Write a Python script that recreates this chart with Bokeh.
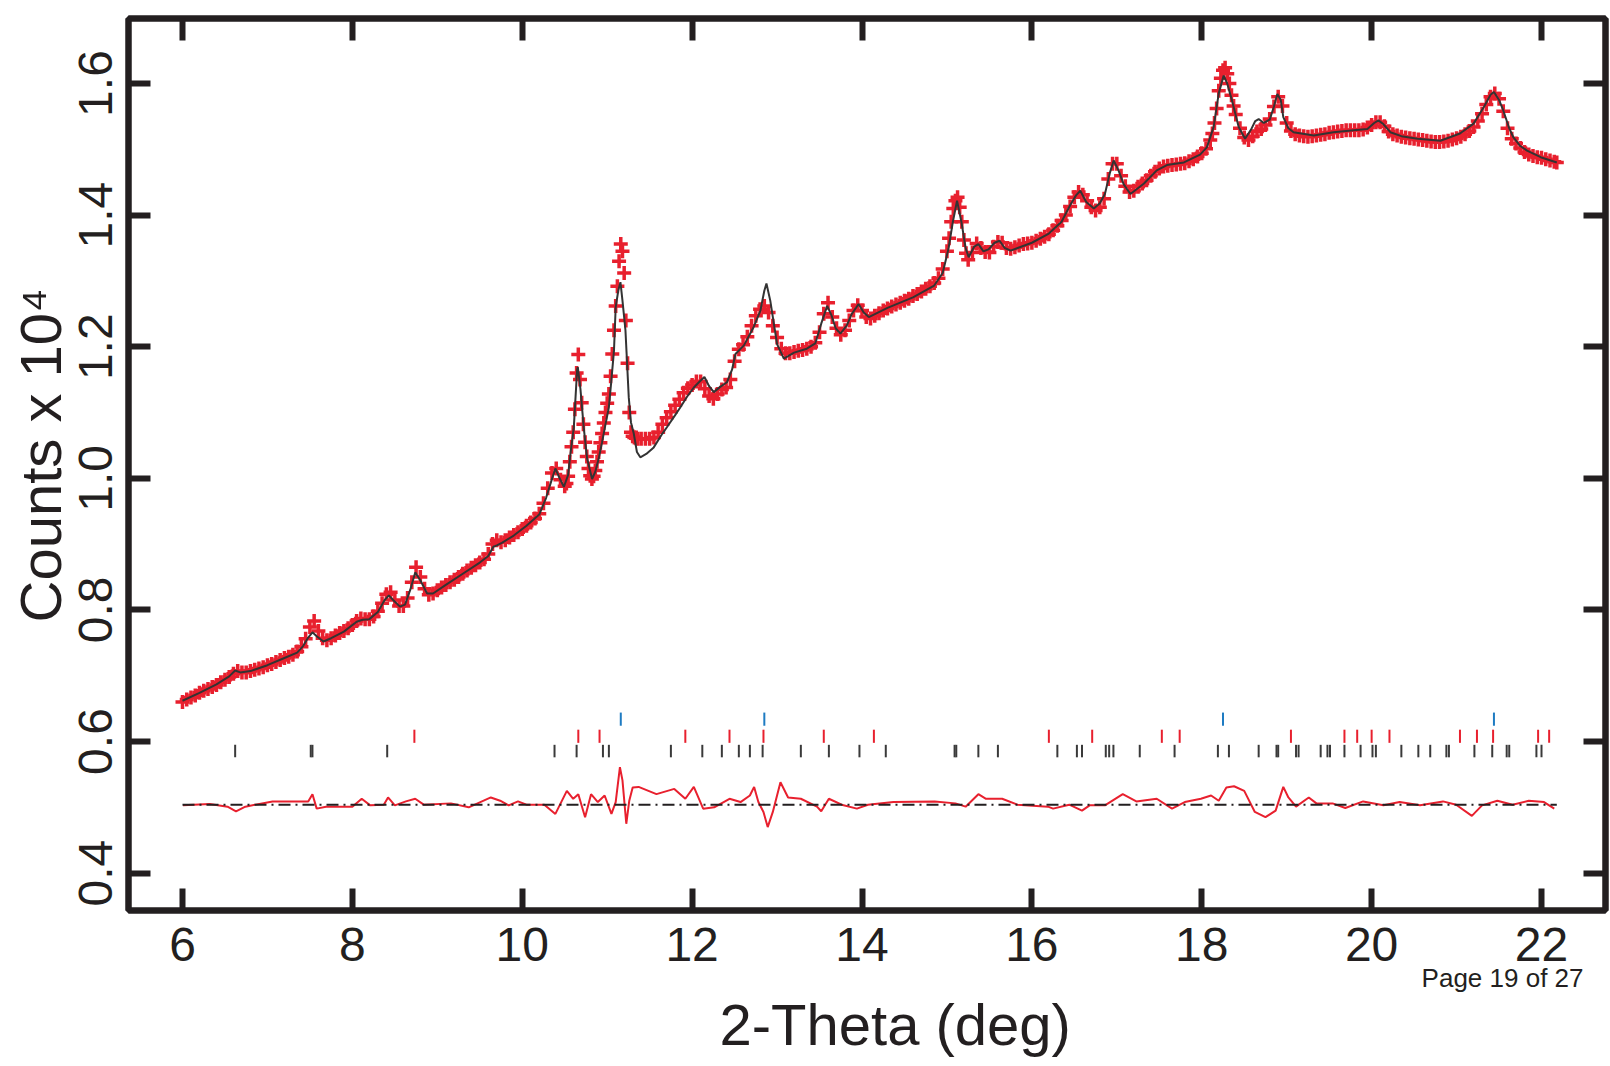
from bokeh.plotting import figure
from bokeh.models import (Range1d, LinearAxis, FixedTicker, PrintfTickFormatter,
                          CustomJSTickFormatter, Title)
from bokeh.embed import file_html
from bokeh.resources import INLINE

# ---------------- data ----------------
obs_2theta = [
    6.00, 6.05, 6.10, 6.15, 6.20, 6.25, 6.30, 6.35, 6.40, 6.45, 6.50, 6.55, 6.60, 6.65, 6.70, 6.75,
    6.80, 6.85, 6.90, 6.95, 7.00, 7.05, 7.10, 7.15, 7.20, 7.25, 7.30, 7.35, 7.40, 7.45, 7.50, 7.55,
    7.60, 7.65, 7.70, 7.75, 7.80, 7.85, 7.90, 7.95, 8.00, 8.05, 8.10, 8.15, 8.20, 8.25, 8.30, 8.35,
    8.40, 8.45, 8.50, 8.55, 8.60, 8.65, 8.70, 8.75, 8.80, 8.85, 8.90, 8.95, 9.00, 9.05, 9.10, 9.15,
    9.20, 9.25, 9.30, 9.35, 9.40, 9.45, 9.50, 9.55, 9.60, 9.65, 9.70, 9.75, 9.80, 9.85, 9.90, 9.95,
    10.00, 10.05, 10.10, 10.15, 10.20, 10.25, 10.30, 10.35, 10.40, 10.45, 10.50,
    10.52, 10.54, 10.56, 10.58, 10.60, 10.62, 10.64, 10.66, 10.68, 10.70, 10.72, 10.74, 10.76, 10.78,
    10.80, 10.82, 10.84, 10.86, 10.88, 10.90, 10.92, 10.94, 10.96, 10.98, 11.00, 11.02, 11.04, 11.06,
    11.08, 11.10, 11.12, 11.14, 11.16, 11.18, 11.20, 11.22, 11.24, 11.26, 11.28, 11.30, 11.32, 11.34, 11.36,
    11.40, 11.45, 11.50, 11.55, 11.60, 11.65, 11.70, 11.75, 11.80, 11.85, 11.90, 11.95, 12.00, 12.05,
    12.10, 12.15, 12.20, 12.25, 12.30, 12.35, 12.40, 12.45, 12.50, 12.55, 12.60, 12.65, 12.70, 12.75,
    12.80, 12.85, 12.90, 12.95, 13.00, 13.05, 13.10, 13.15, 13.20, 13.25, 13.30, 13.35, 13.40, 13.45,
    13.50, 13.55, 13.60, 13.65, 13.70, 13.75, 13.80, 13.85, 13.90, 13.95, 14.00, 14.05, 14.10, 14.15,
    14.20, 14.25, 14.30, 14.35, 14.40, 14.45, 14.50, 14.55, 14.60, 14.65, 14.70, 14.75, 14.80, 14.85,
    14.90, 14.95,
    15.000, 15.025, 15.050, 15.075, 15.100, 15.125, 15.150, 15.175, 15.200, 15.225, 15.250,
    15.30, 15.35, 15.40, 15.45, 15.50, 15.55, 15.60, 15.65, 15.70, 15.75, 15.80, 15.85, 15.90, 15.95,
    16.00, 16.05, 16.10, 16.15, 16.20, 16.25, 16.30, 16.35, 16.40, 16.45, 16.50, 16.55, 16.60, 16.65,
    16.70, 16.75, 16.80, 16.85, 16.90, 16.95, 17.00, 17.05, 17.10, 17.15, 17.20, 17.25, 17.30, 17.35,
    17.40, 17.45, 17.50, 17.55, 17.60, 17.65, 17.70, 17.75, 17.80, 17.85, 17.90, 17.95, 18.00, 18.05,
    18.100, 18.125, 18.150, 18.175, 18.200, 18.225, 18.250, 18.275, 18.300, 18.325, 18.350, 18.375, 18.400,
    18.45, 18.50, 18.55, 18.60, 18.65, 18.70, 18.75, 18.80, 18.85, 18.90, 18.95, 19.00, 19.05, 19.10,
    19.15, 19.20, 19.25, 19.30, 19.35, 19.40, 19.45, 19.50, 19.55, 19.60, 19.65, 19.70, 19.75, 19.80,
    19.85, 19.90, 19.95, 20.00, 20.05, 20.10, 20.15, 20.20, 20.25, 20.30, 20.35, 20.40, 20.45, 20.50,
    20.55, 20.60, 20.65, 20.70, 20.75, 20.80, 20.85, 20.90, 20.95, 21.00, 21.05, 21.10, 21.15, 21.20,
    21.25, 21.30, 21.35, 21.40, 21.45, 21.50, 21.55, 21.60, 21.65, 21.70, 21.75, 21.80, 21.85, 21.90,
    21.95, 22.00, 22.05, 22.10, 22.15, 22.18,
]
obs_counts = [
    0.660, 0.664, 0.667, 0.670, 0.674, 0.677, 0.680, 0.683, 0.686, 0.690, 0.694, 0.698, 0.703, 0.707, 0.705, 0.705,
    0.707, 0.709, 0.711, 0.713, 0.716, 0.718, 0.721, 0.724, 0.727, 0.729, 0.732, 0.737, 0.744, 0.756, 0.774, 0.783,
    0.768, 0.757, 0.754, 0.757, 0.761, 0.765, 0.768, 0.772, 0.777, 0.783, 0.787, 0.786, 0.786, 0.790, 0.798, 0.810,
    0.824, 0.827, 0.815, 0.806, 0.806, 0.818, 0.842, 0.865, 0.850, 0.832, 0.823, 0.825, 0.830, 0.834, 0.838, 0.842,
    0.846, 0.850, 0.855, 0.860, 0.864, 0.868, 0.872, 0.877, 0.885, 0.900, 0.906, 0.903, 0.906, 0.910, 0.914, 0.918,
    0.923, 0.928, 0.933, 0.939, 0.946, 0.962, 0.985, 1.008, 1.015, 0.998, 0.988,
    0.992, 1.003, 1.025, 1.048, 1.070, 1.105, 1.160, 1.188, 1.150, 1.115, 1.082, 1.055, 1.033, 1.015,
    1.004, 0.999, 1.003, 1.012, 1.025, 1.040, 1.054, 1.068, 1.084, 1.100, 1.114, 1.128, 1.155, 1.189,
    1.225, 1.262, 1.292, 1.330, 1.356, 1.345, 1.312, 1.240, 1.175, 1.100, 1.070, 1.064, 1.062, 1.061, 1.060,
    1.060, 1.060, 1.060, 1.062, 1.070, 1.082, 1.092, 1.101, 1.111, 1.120, 1.130, 1.137, 1.142, 1.147,
    1.147, 1.136, 1.125, 1.121, 1.128, 1.135, 1.138, 1.150, 1.178, 1.196, 1.203, 1.215, 1.232, 1.247,
    1.257, 1.262, 1.252, 1.232, 1.214, 1.197, 1.190, 1.190, 1.192, 1.194, 1.195, 1.197, 1.200, 1.206,
    1.222, 1.250, 1.267, 1.245, 1.228, 1.218, 1.225, 1.240, 1.255, 1.263, 1.255, 1.245, 1.243, 1.247,
    1.251, 1.255, 1.258, 1.261, 1.264, 1.267, 1.270, 1.273, 1.277, 1.280, 1.284, 1.288, 1.292, 1.297,
    1.304, 1.318,
    1.345, 1.365, 1.390, 1.410, 1.422, 1.427, 1.412, 1.390, 1.362, 1.342, 1.332,
    1.343, 1.357, 1.350, 1.344, 1.343, 1.352, 1.359, 1.358, 1.350, 1.349, 1.351, 1.354, 1.356, 1.357,
    1.358, 1.361, 1.364, 1.367, 1.371, 1.377, 1.384, 1.392, 1.400, 1.413, 1.427, 1.435, 1.431, 1.422,
    1.412, 1.407, 1.412, 1.425, 1.455, 1.478, 1.478, 1.460, 1.444, 1.435, 1.437, 1.443, 1.448, 1.453,
    1.460, 1.466, 1.471, 1.474, 1.475, 1.476, 1.477, 1.478, 1.479, 1.482, 1.485, 1.489, 1.494, 1.501,
    1.514, 1.524, 1.540, 1.562, 1.589, 1.608, 1.620, 1.624, 1.615, 1.600, 1.582, 1.566, 1.553,
    1.532, 1.518, 1.514, 1.520, 1.527, 1.531, 1.537, 1.546, 1.565, 1.580, 1.566, 1.540, 1.528, 1.523,
    1.521, 1.520, 1.519, 1.520, 1.521, 1.522, 1.523, 1.525, 1.526, 1.527, 1.528, 1.529, 1.529, 1.529,
    1.529, 1.530, 1.533, 1.537, 1.541, 1.541, 1.535, 1.527, 1.523, 1.521, 1.519, 1.518, 1.517, 1.516,
    1.515, 1.514, 1.513, 1.512, 1.511, 1.511, 1.512, 1.513, 1.515, 1.517, 1.519, 1.523, 1.528, 1.534,
    1.543, 1.554, 1.568, 1.580, 1.585, 1.577, 1.558, 1.532, 1.516, 1.509, 1.502, 1.496, 1.492, 1.490,
    1.488, 1.487, 1.485, 1.483, 1.481, 1.480,
]

calc_2theta = [
    6.00, 6.20, 6.40, 6.55, 6.62, 6.68, 6.80, 7.00, 7.20, 7.35, 7.42, 7.48, 7.53, 7.58, 7.66, 7.75,
    7.90, 8.05, 8.12, 8.20, 8.30, 8.38, 8.43, 8.48, 8.56, 8.62, 8.68, 8.74, 8.80, 8.88, 8.95, 9.10,
    9.30, 9.50, 9.60, 9.66, 9.70, 9.76, 9.90, 10.05, 10.20, 10.28, 10.34, 10.39, 10.44, 10.49, 10.54,
    10.567, 10.607, 10.626, 10.646, 10.654, 10.685, 10.724, 10.764, 10.822, 10.86, 10.90, 10.94,
    10.98, 11.02, 11.05, 11.08, 11.10, 11.13, 11.156, 11.18, 11.215, 11.254, 11.28, 11.313, 11.35,
    11.39, 11.46, 11.548, 11.65, 11.705, 11.80, 11.862, 11.94, 12.02, 12.08, 12.145, 12.20, 12.255,
    12.33, 12.41, 12.47, 12.51, 12.61, 12.725, 12.804, 12.85, 12.875, 12.92, 13.00, 13.08, 13.20,
    13.35, 13.45, 13.52, 13.59, 13.64, 13.69, 13.746, 13.82, 13.88, 13.96, 14.02, 14.08, 14.30, 14.60,
    14.85, 14.95, 15.02, 15.07, 15.119, 15.17, 15.22, 15.256, 15.32, 15.37, 15.43, 15.49, 15.56, 15.62,
    15.68, 15.75, 16.00, 16.20, 16.35, 16.45, 16.52, 16.57, 16.64, 16.73, 16.80, 16.86, 16.92, 16.963,
    17.02, 17.08, 17.16, 17.32, 17.47, 17.59, 17.79, 17.98, 18.06, 18.14, 18.20, 18.258, 18.30, 18.356,
    18.435, 18.51, 18.58, 18.63, 18.67, 18.73, 18.80, 18.85, 18.89, 18.93, 18.96, 19.02, 19.08, 19.32,
    19.55, 19.79, 19.95, 20.03, 20.08, 20.14, 20.22, 20.35, 20.54, 20.81, 21.04, 21.20, 21.32, 21.40,
    21.44, 21.50, 21.55, 21.62, 21.67, 21.75, 21.83, 21.99, 22.18,
]
calc_counts = [
    0.662, 0.674, 0.687, 0.699, 0.708, 0.705, 0.707, 0.716, 0.727, 0.735, 0.745, 0.758, 0.766, 0.760, 0.752, 0.757,
    0.767, 0.782, 0.785, 0.786, 0.797, 0.815, 0.822, 0.815, 0.805, 0.808, 0.830, 0.857, 0.845, 0.825, 0.825, 0.838,
    0.855, 0.872, 0.882, 0.896, 0.898, 0.902, 0.913, 0.928, 0.945, 0.970, 0.995, 1.015, 1.000, 0.987, 1.005,
    1.037, 1.077, 1.120, 1.165, 1.169, 1.136, 1.077, 1.030, 0.999, 1.010, 1.030, 1.055,
    1.082, 1.108, 1.150, 1.194, 1.260, 1.285, 1.298, 1.270, 1.225, 1.123, 1.085, 1.068, 1.040,
    1.032, 1.037, 1.047, 1.068, 1.078, 1.096, 1.108, 1.124, 1.138, 1.146, 1.154, 1.140, 1.131,
    1.139, 1.146, 1.165, 1.189, 1.202, 1.230, 1.255, 1.285, 1.296, 1.270, 1.204, 1.182, 1.191,
    1.197, 1.205, 1.235, 1.262, 1.248, 1.228, 1.220, 1.232, 1.250, 1.265, 1.252, 1.245, 1.259, 1.275,
    1.293, 1.312, 1.350, 1.390, 1.422, 1.390, 1.350, 1.336, 1.352, 1.356, 1.345, 1.348, 1.358, 1.361,
    1.350, 1.346, 1.358, 1.372, 1.390, 1.415, 1.430, 1.437, 1.420, 1.410, 1.418, 1.432, 1.465, 1.483,
    1.468, 1.447, 1.432, 1.448, 1.468, 1.476, 1.480, 1.492, 1.503, 1.534, 1.585, 1.612, 1.600, 1.574,
    1.534, 1.516, 1.530, 1.543, 1.546, 1.540, 1.545, 1.565, 1.584, 1.575, 1.549, 1.532, 1.526, 1.521,
    1.526, 1.529, 1.531, 1.540, 1.544, 1.538, 1.526, 1.520, 1.516, 1.513, 1.524, 1.539, 1.564, 1.583,
    1.587, 1.575, 1.559, 1.532, 1.518, 1.505, 1.498, 1.488, 1.480,
]

diff_2theta = [
    6.006, 6.32, 6.53, 6.63, 6.74, 7.06, 7.37, 7.48, 7.53, 7.58, 7.69, 8.00, 8.11, 8.21, 8.37, 8.42,
    8.50, 8.63, 8.74, 8.84, 9.16, 9.37, 9.63, 9.74, 9.84, 9.95, 10.05, 10.26, 10.39, 10.525, 10.60,
    10.66, 10.74, 10.81, 10.89, 10.97, 11.05, 11.10, 11.15, 11.18, 11.225, 11.26, 11.30, 11.37, 11.58,
    11.79, 11.92, 12.02, 12.13, 12.26, 12.44, 12.57, 12.68, 12.73, 12.78, 12.84, 12.89, 12.95, 13.04,
    13.13, 13.28, 13.47, 13.52, 13.61, 13.76, 13.94, 14.07, 14.37, 14.855, 15.10, 15.22, 15.37, 15.46,
    15.65, 15.83, 16.19, 16.25, 16.44, 16.59, 16.68, 16.86, 17.07, 17.23, 17.47, 17.65, 17.80, 17.99,
    18.11, 18.20, 18.29, 18.38, 18.50, 18.625, 18.75, 18.87, 18.96, 19.02, 19.11, 19.26, 19.35, 19.54,
    19.69, 19.90, 20.14, 20.33, 20.57, 20.84, 20.995, 21.18, 21.30, 21.48, 21.66, 21.85, 22.03, 22.15,
]
diff_counts = [
    0.503, 0.505, 0.501, 0.494, 0.501, 0.509, 0.509, 0.509, 0.520, 0.498, 0.501, 0.501, 0.513, 0.503, 0.504, 0.515,
    0.503, 0.509, 0.513, 0.504, 0.506, 0.500, 0.515, 0.510, 0.503, 0.509, 0.504, 0.504, 0.490, 0.525, 0.513,
    0.520, 0.485, 0.520, 0.508, 0.518, 0.490, 0.508, 0.561, 0.541, 0.475, 0.510, 0.530, 0.531, 0.520,
    0.528, 0.513, 0.531, 0.498, 0.500, 0.513, 0.508, 0.518, 0.531, 0.508, 0.493, 0.470, 0.493, 0.538,
    0.515, 0.513, 0.501, 0.494, 0.513, 0.504, 0.498, 0.504, 0.508, 0.509, 0.506, 0.501, 0.520, 0.513,
    0.513, 0.504, 0.501, 0.498, 0.504, 0.495, 0.503, 0.503, 0.520, 0.509, 0.513, 0.498, 0.508, 0.513,
    0.518, 0.510, 0.530, 0.532, 0.525, 0.493, 0.485, 0.495, 0.531, 0.515, 0.501, 0.515, 0.506, 0.506,
    0.499, 0.509, 0.503, 0.508, 0.503, 0.509, 0.504, 0.487, 0.503, 0.510, 0.504, 0.510, 0.508, 0.498,
]
diff_zero = 0.504

# reflection tick positions (three phases)
ticks_blue = [11.16, 12.85, 18.25, 21.44]
ticks_red = [8.73, 10.66, 10.91, 11.92, 12.44, 12.84, 13.55, 14.14, 16.20, 16.71, 17.53, 17.74,
             19.05, 19.68, 19.83, 20.00, 20.21, 21.04, 21.24, 21.43, 21.96, 22.09]
ticks_black = [6.62, 7.51, 7.53, 8.41, 10.38, 10.64, 10.95, 11.02, 11.75, 12.12, 12.35, 12.55,
               12.68, 12.83, 13.28, 13.61, 13.97, 14.28, 15.09, 15.11, 15.37, 15.60, 16.30, 16.53,
               16.59, 16.87, 16.91, 16.96, 17.27, 17.68, 18.19, 18.32, 18.67, 18.88, 18.90, 19.11,
               19.14, 19.40, 19.48, 19.51, 19.68, 19.87, 20.01, 20.05, 20.35, 20.55, 20.69, 20.88,
               20.91, 21.21, 21.42, 21.59, 21.62, 21.94, 22.00]

x_ticks = [6, 8, 10, 12, 14, 16, 18, 20, 22]
y_ticks = [0.4, 0.6, 0.8, 1.0, 1.2, 1.4, 1.6]

x_title = "2-Theta (deg)"
y_title = "Counts x 10\u2074"
page_note = "Page 19 of 27"

# ---------------- styling ----------------
INK = "#231f20"
RED = "#e8202e"
BLUE = "#1e7bc2"
DARK = "#333333"
FONT = "Liberation Sans"

p = figure(width=1610, height=1066, output_backend="svg", toolbar_location=None,
           x_range=Range1d(5.3643, 22.7534), y_range=Range1d(0.3432, 1.6988),
           min_border_left=128, min_border_right=5, min_border_top=18, min_border_bottom=156)
p.grid.visible = False
p.background_fill_color = "white"
p.border_fill_color = "white"
p.outline_line_color = INK
p.outline_line_width = 6


def style_axis(ax, ticks, fmt, show_labels, standoff):
    ax.ticker = FixedTicker(ticks=ticks)
    ax.formatter = fmt
    ax.major_tick_in = 22
    ax.major_tick_out = 0
    ax.major_tick_line_width = 6
    ax.major_tick_line_color = INK
    ax.minor_tick_line_color = None
    ax.axis_line_width = 6
    ax.axis_line_color = INK
    ax.major_label_text_font = FONT
    ax.major_label_text_color = INK
    ax.major_label_standoff = standoff
    ax.major_label_text_font_size = "48px" if show_labels else "0px"


style_axis(p.xaxis[0], x_ticks, PrintfTickFormatter(format="%d"), True, 17)
style_axis(p.yaxis[0], y_ticks, PrintfTickFormatter(format="%.1f"), True, 16)
p.yaxis[0].major_label_orientation = "vertical"

blank = CustomJSTickFormatter(code="return ''")
ax_top = LinearAxis()
style_axis(ax_top, x_ticks, blank, False, 0)
p.add_layout(ax_top, "above")
ax_right = LinearAxis()
style_axis(ax_right, y_ticks, blank, False, 0)
p.add_layout(ax_right, "right")

# y-axis title (placed as a side title so it can sit where the reference has it)
p.add_layout(Title(text=y_title, align="left", offset=288, standoff=7,
                   text_font=FONT, text_font_size="58px", text_font_style="normal",
                   text_color=INK), "left")

# texts below the x axis: page note, then axis title
p.add_layout(Title(text=page_note, align="right", offset=22, standoff=-6,
                   text_font=FONT, text_font_size="26px", text_font_style="normal",
                   text_color=INK), "below")
p.add_layout(Title(text=x_title, align="left", offset=591, standoff=0,
                   text_font=FONT, text_font_size="58px", text_font_style="normal",
                   text_color=INK), "below")

# observed (+), calculated (line)
p.scatter(obs_2theta, obs_counts, marker="cross", size=14, line_color=RED, line_width=3.5)
p.line(calc_2theta, calc_counts, line_color=DARK, line_width=2)

# reflection markers
def tick_row(xs, lo, hi, color):
    p.segment(x0=xs, y0=[lo] * len(xs), x1=xs, y1=[hi] * len(xs), line_color=color, line_width=2)

tick_row(ticks_blue, 0.624, 0.644, BLUE)
tick_row(ticks_red, 0.598, 0.618, RED)
tick_row(ticks_black, 0.576, 0.595, "#3a3a3a")

# difference curve and its zero line
p.line(diff_2theta, diff_counts, line_color=RED, line_width=2)
p.line([obs_2theta[0], obs_2theta[-1]], [diff_zero, diff_zero], line_color=INK,
       line_width=2, line_dash="12 5 2 5")

open("out.html", "w").write(file_html(p, INLINE))
